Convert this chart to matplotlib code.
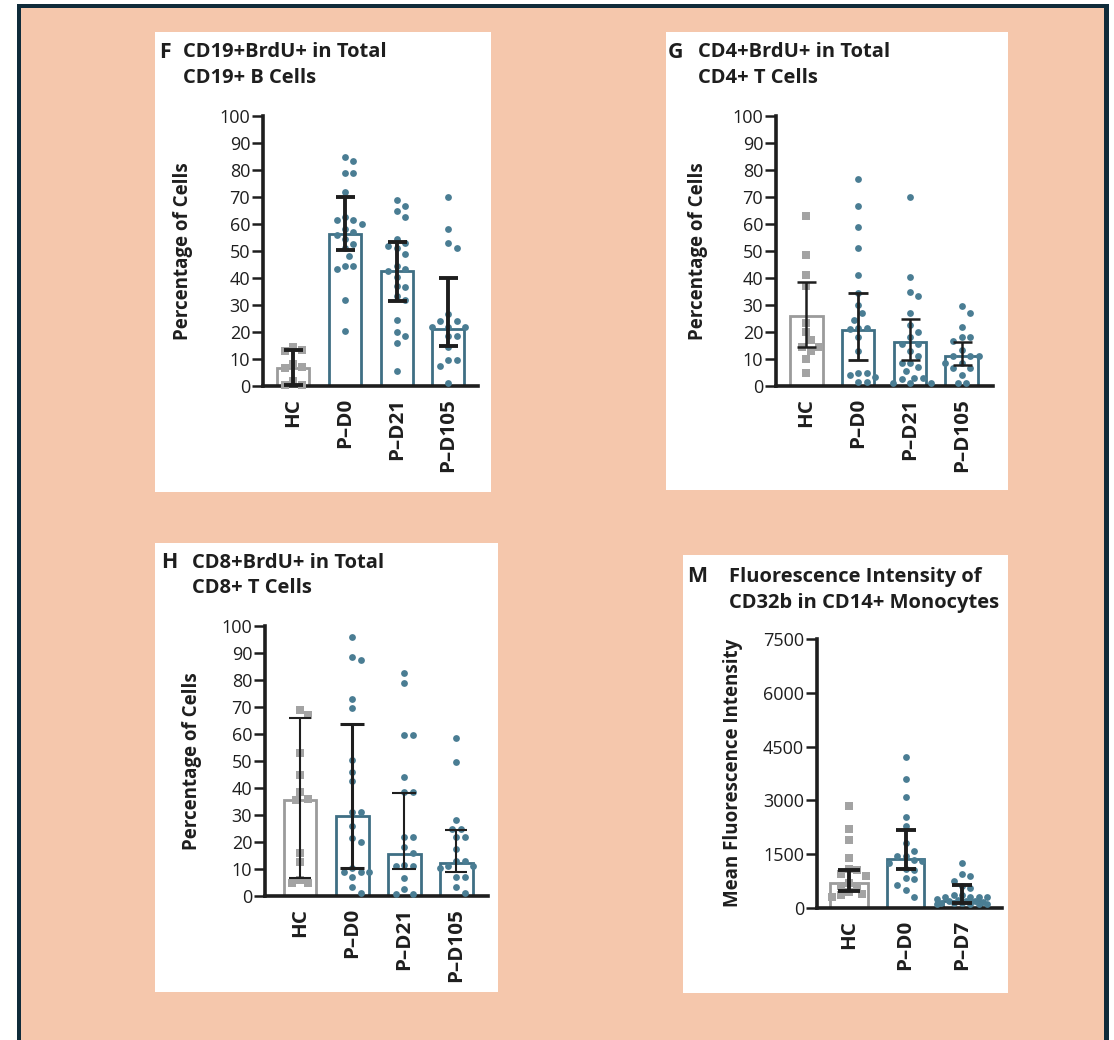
import matplotlib
matplotlib.use("Agg")
import matplotlib.pyplot as plt
from matplotlib.patches import Rectangle
import numpy as np

plt.rcParams["font.family"] = ["Open Sans", "DejaVu Sans"]

W, H = 1114, 1040

# ---------------- data ----------------
groups_long = ["HC", "P\u2013D0", "P\u2013D21", "P\u2013D105"]
groups_m = ["HC", "P\u2013D0", "P\u2013D7"]

# F: CD19+BrdU+ in total CD19+ B cells (%)
f_hc = [14.5, 13.5, 13, 8, 7, 6.5, 2, 0.5, 0.5]
f_d0 = [84.7, 83.3, 79, 79, 72, 62.5, 61.5, 61.5, 60, 58, 57, 56, 54.5, 52.5,
        51, 48, 44.5, 44.5, 43.5, 32, 20.4]
f_d21 = [69, 66.5, 65, 62.5, 54.5, 53, 52, 51, 49, 44.5, 43.5, 42.5, 40.5, 37,
         36.5, 33.5, 32, 24.5, 20, 18.5, 16, 5.5]
f_d105 = [70, 58, 53, 51, 26.5, 24, 24, 22, 22, 22, 18.5, 18.5, 14.5, 9.5, 9.5,
          7.5, 1.2]
f_bar = [6.5, 56.2, 42.7, 21.1]
f_lo = [0.4, 50.4, 31.6, 14.8]
f_hi = [13.3, 70, 53.2, 40]

# G: CD4+BrdU+ in total CD4+ T cells (%)
g_hc = [63, 48.5, 41, 37, 23.5, 20, 17, 14.5, 14.5, 13, 10, 5]
g_d0 = [76.5, 66.5, 59, 51, 41, 34.5, 30, 27, 24.5, 21.5, 21.5, 21, 18, 13, 5,
        5, 4, 3.5, 1.5, 1.5]
g_d21 = [70, 40.5, 35, 33.5, 27, 22.5, 20, 18, 15.5, 15.5, 13, 11, 8.5, 8.5, 7,
         5.5, 3, 3, 2.5, 1.2, 1.2, 1.2]
g_d105 = [29.5, 27, 22, 18, 18, 16.5, 13.5, 11, 11, 11, 8.5, 8.5, 6.5, 6.5, 4,
          1.2, 1.2]
g_bar = [26, 20.7, 16.4, 11.2]
g_lo = [14.6, 9.8, 9.6, 7.8]
g_hi = [38.7, 34.4, 24.8, 16.3]

# H: CD8+BrdU+ in total CD8+ T cells (%)
h_hc = [69, 67, 53, 45, 38.5, 36, 35.5, 16, 12.5, 6, 5, 5]
h_d0 = [96, 88.5, 87.5, 73, 69.5, 50.5, 46, 42.5, 31, 31, 26, 21.5, 20, 10.5,
        9, 9, 9, 7, 3.5, 1]
h_d21 = [82.5, 79, 59.5, 59.5, 44, 38.5, 38.5, 22, 22, 18, 16, 11.5, 11, 11,
         6.5, 2.5, 0.7, 0.7]
h_d105 = [58.5, 49.5, 28, 25, 25, 22, 22, 17.5, 13, 13, 11, 11, 10.5, 7, 7,
          3.5, 1]
h_bar = [35.6, 29.7, 15.4, 12.3]
h_lo = [6.5, 10.2, 9.9, 9.0]
h_hi = [65.8, 63.7, 38.3, 24.4]

# M: mean fluorescence intensity of CD32b in CD14+ monocytes
m_hc = [2850, 2200, 1900, 1400, 1100, 1050, 950, 900, 700, 620, 600, 450, 400,
        350, 320]
m_d0 = [4200, 3600, 3100, 2550, 2300, 1800, 1600, 1450, 1450, 1350, 1300,
        1250, 1100, 1050, 850, 800, 650, 500, 300]
m_d7 = [1250, 950, 900, 750, 600, 550, 350, 350, 300, 300, 300, 300, 250, 220,
        200, 200, 200, 180, 150, 150, 130, 120, 100, 100, 100]
m_bar = [706, 1366, 195]
m_lo = [483, 1100, 149]
m_hi = [1059, 2175, 641]

# ---------------- styling ----------------
PEACH = "#F5C7AC"
NAVY = "#0F2B3A"
TEAL_BAR = "#3F6F84"
TEAL_DOT = "#4A7D93"
GRAY_BAR = "#9B9B9B"
GRAY_DOT = "#A3A3A3"
INK = "#1E1E1E"

fig = plt.figure(figsize=(W / 100, H / 100), dpi=100)
fig.patch.set_facecolor("white")
renderer = fig.canvas.get_renderer()


def fx(x):
    return x / W


def fy(y):
    return 1 - y / H


def fit_size(text, width_px, weight, base=12.0):
    t = fig.text(0, 0, text, fontsize=base, fontweight=weight)
    w = t.get_window_extent(renderer).width
    t.remove()
    return base * width_px / w


TITLE_FS = fit_size("CD19+BrdU+ in Total", 204, "bold")
TICK_FS = fit_size("100", 31, "normal")
YLAB_FS = fit_size("Percentage of Cells", 178, "bold")
XLAB_FS = fit_size("P\u2013D105", 73, "bold")


def box(x0, y0, x1, y1, color, z):
    fig.add_artist(Rectangle((fx(x0), fy(y1)), fx(x1) - fx(x0), fy(y0) - fy(y1),
                             transform=fig.transFigure, facecolor=color,
                             edgecolor="none", zorder=z))


# framed peach backdrop
box(17, 4, 1109, 1045, NAVY, -30)
box(21, 8, 1104, 1045, PEACH, -29)
# white panel cards
box(155, 32, 491, 492, "white", -20)
box(666, 32, 1008, 490, "white", -20)
box(155, 543, 498, 992, "white", -20)
box(683, 555, 1008, 993, "white", -20)


def swarm(vals, ppx, ppy, dmin, half_max):
    """Deterministic beeswarm offsets (in category units)."""
    vals = np.asarray(vals, float)
    order = np.argsort(-vals, kind="stable")
    step = dmin / 2
    cands = [0.0]
    k = 1
    while k * step <= half_max:
        cands += [k * step, -k * step]
        k += 1
    placed = []
    offs = np.zeros(len(vals))
    for i in order:
        y = vals[i] * ppy
        best, best_d = 0.0, -1.0
        for c in cands:
            d = min((np.hypot(c - px, y - py) for px, py in placed), default=1e9)
            if d >= dmin:
                best = c
                break
            if d > best_d:
                best, best_d = c, d
        placed.append((best, y))
        offs[i] = best / ppx
    return offs


def panel(left, top, right, bottom, c0, dc, ymax, yticks, labels, series,
          bars, lo, hi, barw, err_lw, cap_px, ylabel, ylab_xy, letter,
          letter_xy, title_x, title_ys, title_lines, half_max=24):
    ax = fig.add_axes([fx(left), fy(bottom), fx(right) - fx(left),
                       fy(top) - fy(bottom)])
    ax.set_facecolor("none")
    xlim = ((left - c0) / dc, (right - c0) / dc)
    ax.set_xlim(*xlim)
    ax.set_ylim(0, ymax)
    n = len(labels)
    xs = np.arange(n)
    ppx = (right - left) / (xlim[1] - xlim[0])
    ppy = (bottom - top) / ymax

    edge = [GRAY_BAR] + [TEAL_BAR] * (n - 1)
    ax.bar(xs, bars, width=barw, facecolor="none", edgecolor=edge,
           linewidth=2.0, zorder=2)
    for i, vals in enumerate(series):
        offs = swarm(vals, ppx, ppy, 8.4, half_max)
        if i == 0:
            ax.scatter(i + offs, vals, marker="s", s=26, color=GRAY_DOT,
                       linewidths=0, zorder=3, clip_on=False)
        else:
            ax.scatter(i + offs, vals, marker="o", s=24, color=TEAL_DOT,
                       linewidths=0, zorder=3, clip_on=False)
    for i in range(n):
        ax.errorbar(xs[i], bars[i], yerr=[[bars[i] - lo[i]], [hi[i] - bars[i]]],
                    fmt="none", ecolor=INK, elinewidth=err_lw[i],
                    capthick=err_lw[i], capsize=cap_px[i] * 0.72 / 2, zorder=4)

    for s in ("top", "right"):
        ax.spines[s].set_visible(False)
    for s in ("left", "bottom"):
        ax.spines[s].set_linewidth(2.6)
        ax.spines[s].set_color(INK)
        ax.spines[s].set_capstyle("projecting")
    ax.set_yticks(yticks)
    ax.set_yticklabels([str(t) for t in yticks])
    ax.tick_params(axis="y", direction="out", length=8, width=1.8,
                   colors=INK, labelsize=TICK_FS, pad=1.2)
    ax.set_xticks(xs)
    ax.set_xticklabels(labels, rotation=90, fontweight="bold", fontsize=XLAB_FS,
                       color=INK, va="top", ha="center")
    ax.tick_params(axis="x", length=0, pad=8.5)

    fig.text(fx(ylab_xy[0]), fy(ylab_xy[1]), ylabel, rotation=90, ha="center",
             va="center", fontsize=YLAB_FS, fontweight="bold", color=INK)
    fig.text(fx(letter_xy[0]), fy(letter_xy[1]), letter, ha="left",
             va="center", fontsize=TITLE_FS * 1.05, fontweight="bold", color=INK)
    for line, ty in zip(title_lines, title_ys):
        fig.text(fx(title_x), fy(ty), line, ha="left", va="center",
                 fontsize=TITLE_FS, fontweight="bold", color=INK)
    return ax


pct_ticks = list(range(0, 101, 10))

panel(263, 116, 478, 386, 293.3, 51.7, 100, pct_ticks, groups_long,
      [f_hc, f_d0, f_d21, f_d105], f_bar, f_lo, f_hi, 0.62,
      [2.8, 2.8, 2.8, 2.8], [19, 19, 19, 19], "Percentage of Cells", (183, 251),
      "F", (159, 52), 183, (52, 78),
      ["CD19+BrdU+ in Total", "CD19+ B Cells"])

panel(776, 116, 993, 386, 806.3, 51.8, 100, pct_ticks, groups_long,
      [g_hc, g_d0, g_d21, g_d105], g_bar, g_lo, g_hi, 0.63,
      [1.8, 2.0, 1.8, 1.8], [19, 20, 19, 19], "Percentage of Cells", (698, 251),
      "G", (668, 52), 698, (52, 78),
      ["CD4+BrdU+ in Total", "CD4+ T Cells"])

panel(265, 626, 488, 896, 300.0, 52.1, 100, pct_ticks, groups_long,
      [h_hc, h_d0, h_d21, h_d105], h_bar, h_lo, h_hi, 0.63,
      [1.5, 2.2, 1.5, 1.5], [23, 24, 24, 23], "Percentage of Cells", (192, 761),
      "H", (161, 563), 192, (563, 588),
      ["CD8+BrdU+ in Total", "CD8+ T Cells"])

panel(817, 639, 1002, 908, 849.0, 56.5, 7500, [0, 1500, 3000, 4500, 6000, 7500],
      groups_m, [m_hc, m_d0, m_d7], m_bar, m_lo, m_hi, 0.67,
      [2.8, 2.8, 2.8], [22, 20, 20], "Mean Fluorescence Intensity", (733, 773),
      "M", (687, 577), 729, (577, 603),
      ["Fluorescence Intensity of", "CD32b in CD14+ Monocytes"], half_max=28)

fig.savefig("out.png", dpi=100, facecolor=fig.get_facecolor())
